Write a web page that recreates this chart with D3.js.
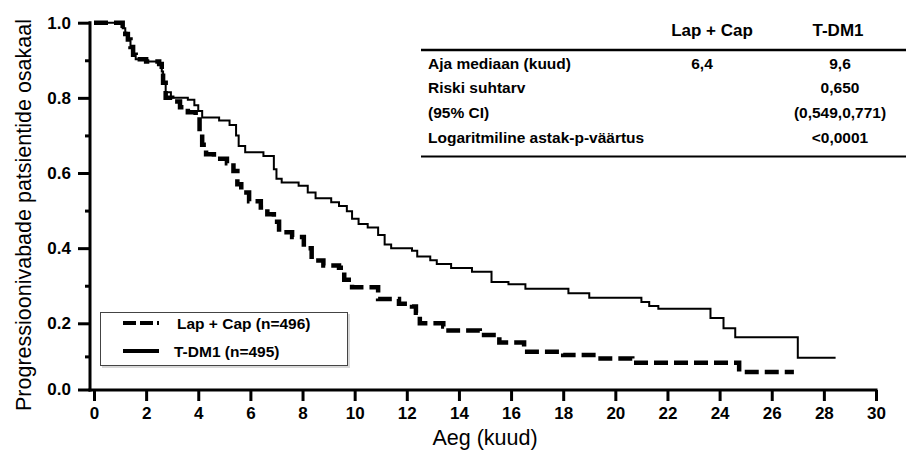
<!DOCTYPE html>
<meta charset="utf-8">
<style>

body {
  margin: 0;
  background: #fff;
}

svg {
  font-family: "Liberation Sans", Arial, sans-serif;
}

.axis path,
.axis line {
  stroke: #000;
  stroke-width: 3;
}

.axis text {
  font-size: 17px;
  font-weight: bold;
  fill: #000;
}

.table text {
  font-weight: bold;
  font-size: 15.5px;
}

</style>
<svg width="906" height="450"></svg>
<script src="https://d3js.org/d3.v7.min.js"></script>
<script>

// Kaplan-Meier curves (time in months, survival fraction)
var lapCapTime = [0, 1.1, 1.2, 1.3, 1.4, 1.5, 1.6, 2.0, 2.5, 2.6, 2.65, 2.75, 3.0, 3.3, 3.6, 3.9, 4.05, 4.15, 4.3, 4.6, 5.1, 5.35, 5.5, 5.65, 5.95, 6.4, 6.65, 6.9, 7.1, 7.6, 8.05, 8.35, 8.8, 9.4, 9.6, 9.9, 10.9, 11.7, 12.2, 12.35, 12.5, 13.4, 13.6, 14.8, 15.55, 16.5, 18.0, 19.3, 20.65, 24.75, 26.85];
var lapCapSurv = [1.0, 0.985, 0.97, 0.955, 0.935, 0.915, 0.903, 0.897, 0.89, 0.87, 0.84, 0.80, 0.79, 0.775, 0.762, 0.752, 0.71, 0.675, 0.65, 0.638, 0.626, 0.605, 0.57, 0.548, 0.525, 0.508, 0.49, 0.47, 0.442, 0.43, 0.40, 0.367, 0.354, 0.348, 0.316, 0.296, 0.265, 0.252, 0.245, 0.228, 0.20, 0.19, 0.178, 0.165, 0.142, 0.114, 0.104, 0.094, 0.081, 0.053, 0.053];

var tdm1Time = [0, 1.1, 1.2, 1.3, 1.4, 1.5, 1.6, 2.0, 2.5, 2.6, 2.65, 2.75, 2.95, 3.6, 3.85, 4.0, 4.15, 4.8, 5.2, 5.45, 5.55, 5.8, 6.5, 6.9, 7.0, 7.2, 7.85, 8.2, 8.5, 9.1, 9.4, 9.7, 9.9, 10.15, 10.5, 10.9, 11.15, 11.4, 12.2, 12.4, 12.9, 13.15, 13.7, 14.5, 15.25, 15.9, 16.55, 18.2, 19.0, 21.0, 21.3, 21.65, 23.65, 24.15, 24.6, 27.0, 28.45];
var tdm1Surv = [1.0, 0.985, 0.97, 0.955, 0.935, 0.915, 0.903, 0.897, 0.89, 0.87, 0.84, 0.815, 0.80, 0.795, 0.78, 0.765, 0.748, 0.74, 0.728, 0.70, 0.672, 0.655, 0.645, 0.61, 0.585, 0.575, 0.566, 0.548, 0.533, 0.522, 0.512, 0.498, 0.478, 0.464, 0.455, 0.435, 0.41, 0.40, 0.393, 0.378, 0.368, 0.358, 0.347, 0.337, 0.31, 0.304, 0.292, 0.28, 0.268, 0.257, 0.246, 0.239, 0.214, 0.185, 0.158, 0.096, 0.096];

var legendLabels = ["Lap + Cap (n=496)", "T-DM1 (n=495)"];

var tableHeader = ["Lap + Cap", "T-DM1"];
var tableRows = ["Aja mediaan (kuud)", "Riski suhtarv", "(95% CI)", "Logaritmiline astak-p-väärtus"];
var tableLapCap = ["6,4", "", "", ""];
var tableTdm1 = ["9,6", "0,650", "(0,549,0,771)", "<0,0001"];

var xTicks = d3.range(0, 31, 2);
var yTicks = [0, 0.2, 0.4, 0.6, 0.8, 1.0];
var yMinorTicks = [0.1, 0.3, 0.5, 0.7, 0.9];

var svg = d3.select("svg");

var x = d3.scaleLinear()
    .domain([0, 30])
    .range([94, 876]);

// the bottom tenths of the original axis are a bit squeezed
var y = d3.scaleLinear()
    .domain([0, 0.2, 1])
    .range([389.5, 323.3, 22.7]);

// y axis
svg.append("g")
    .attr("class", "axis")
    .attr("transform", "translate(90,0)")
    .call(d3.axisLeft(y).tickValues(yTicks).tickSize(12).tickPadding(7).tickFormat(d3.format(".1f")))
    .call(function(g) { g.select(".domain").remove(); });

svg.append("g")
    .attr("class", "axis")
    .attr("transform", "translate(90,0)")
    .call(d3.axisLeft(y).tickValues(yMinorTicks).tickSize(5).tickFormat(""))
    .call(function(g) { g.select(".domain").remove(); });

svg.append("line")
    .attr("x1", 90).attr("x2", 90)
    .attr("y1", y(1) - 1.5).attr("y2", 391.5)
    .attr("stroke", "#000").attr("stroke-width", 3);

// x axis
svg.append("g")
    .attr("class", "axis")
    .attr("transform", "translate(0,390)")
    .call(d3.axisBottom(x).tickValues(xTicks).tickSize(11).tickPadding(6))
    .call(function(g) { g.select(".domain").remove(); });

svg.append("line")
    .attr("x1", 88.5).attr("x2", x(30) + 1.5)
    .attr("y1", 390).attr("y2", 390)
    .attr("stroke", "#000").attr("stroke-width", 3);

// axis titles
svg.append("text")
    .attr("transform", "translate(31,215) rotate(-90)")
    .attr("text-anchor", "middle")
    .style("font-size", "21.5px")
    .text("Progressioonivabade patsientide osakaal");

svg.append("text")
    .attr("x", 485)
    .attr("y", 445)
    .attr("text-anchor", "middle")
    .style("font-size", "21.5px")
    .text("Aeg (kuud)");

// curves
var line = d3.line()
    .x(function(d) { return x(d[0]); })
    .y(function(d) { return y(d[1]); })
    .curve(d3.curveStepAfter);

svg.append("path")
    .datum(d3.zip(tdm1Time, tdm1Surv))
    .attr("fill", "none")
    .attr("stroke", "#000")
    .attr("stroke-width", 2)
    .attr("d", line);

svg.append("path")
    .datum(d3.zip(lapCapTime, lapCapSurv))
    .attr("fill", "none")
    .attr("stroke", "#000")
    .attr("stroke-width", 4.5)
    .attr("stroke-dasharray", "14,6")
    .attr("d", line);

// legend
var legend = svg.append("g");

legend.append("rect")
    .attr("x", 102).attr("y", 314)
    .attr("width", 248).attr("height", 54)
    .attr("fill", "#d8d8d8");

legend.append("rect")
    .attr("x", 100.5).attr("y", 312.5)
    .attr("width", 247).attr("height", 53)
    .attr("fill", "#fff")
    .attr("stroke", "#444")
    .attr("stroke-width", 1);

legend.selectAll(".entry")
    .data(legendLabels)
    .enter().append("g")
    .attr("class", "entry")
    .attr("transform", function(d, i) { return "translate(0," + (323 + i * 28) + ")"; })
    .each(function(d, i) {
      var g = d3.select(this);
      g.append("line")
          .attr("x1", 123).attr("x2", 159)
          .attr("stroke", "#000")
          .attr("stroke-width", 4)
          .attr("stroke-dasharray", i === 0 ? "13,4" : null);
      g.append("text")
          .attr("x", i === 0 ? 177 : 174)
          .attr("y", 5.5)
          .style("font-size", "15.5px")
          .style("font-weight", "bold")
          .text(d);
    });

// statistics table
var table = svg.append("g").attr("class", "table");
var col1 = 712, col2 = 838;
var rowY = [68.5, 93, 118, 142.5];

table.selectAll(".head")
    .data(tableHeader)
    .enter().append("text")
    .attr("x", function(d, i) { return i === 0 ? col1 : col2; })
    .attr("y", 36)
    .attr("text-anchor", "middle")
    .style("font-size", "17px")
    .text(function(d) { return d; });

table.append("line")
    .attr("x1", 421).attr("x2", 906)
    .attr("y1", 50).attr("y2", 50)
    .attr("stroke", "#000").attr("stroke-width", 2.5);

table.append("line")
    .attr("x1", 421).attr("x2", 906)
    .attr("y1", 156.5).attr("y2", 156.5)
    .attr("stroke", "#000").attr("stroke-width", 2);

table.selectAll(".rowlabel")
    .data(tableRows)
    .enter().append("text")
    .attr("x", 428)
    .attr("y", function(d, i) { return rowY[i]; })
    .text(function(d) { return d; });

table.selectAll(".v1")
    .data(tableLapCap)
    .enter().append("text")
    .attr("x", col1 - 10)
    .attr("y", function(d, i) { return rowY[i]; })
    .attr("text-anchor", "middle")
    .text(function(d) { return d; });

table.selectAll(".v2")
    .data(tableTdm1)
    .enter().append("text")
    .attr("x", col2 + 2)
    .attr("y", function(d, i) { return rowY[i]; })
    .attr("text-anchor", "middle")
    .text(function(d) { return d; });

</script>
